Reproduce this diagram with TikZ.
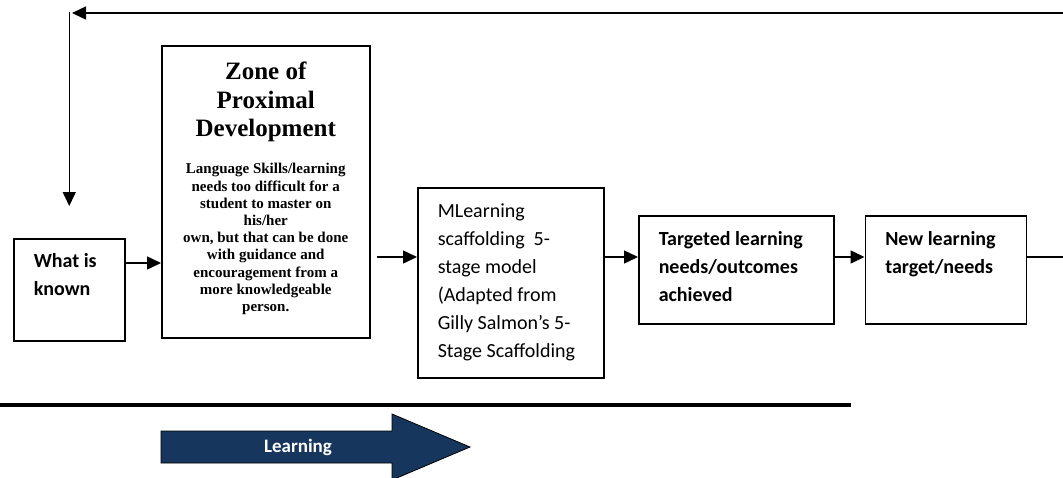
\documentclass[tikz,border=0pt]{standalone}
\usepackage{fontspec}
\setmainfont{Carlito}
\newfontfamily\zpdfont{Liberation Serif}
\usepackage{xcolor}
\usetikzlibrary{arrows.meta,positioning,calc}
\definecolor{learnblue}{RGB}{23,54,93}

\begin{document}
\begin{tikzpicture}[
    x=1pt, y=-1pt,
    box/.style={draw, line width=1.5pt, anchor=north west, align=flush left, inner xsep=20pt, inner ysep=0pt, text height=30pt, font=\fontsize{20}{28}\selectfont},
    arr/.style={-{Triangle[length=14pt,width=13pt]}, line width=1.5pt}
]
    \useasboundingbox (0,0) rectangle (1063,477);
    \clip (0,0) rectangle (1063,477);

    % the five stages
    \node[box, text width=71pt, text height=29pt, text depth=73pt, font=\fontsize{20}{28}\selectfont\bfseries] (known) at (13,238) {What is\\known};
    \node[box, text width=200pt, inner xsep=4pt, align=flush center, text height=34pt, text depth=258pt, font=\zpdfont\bfseries] (zpd) at (161,45) {%
        {\fontsize{25}{28.5}\selectfont Zone of\\Proximal\\Development\par}\vspace{20pt}%
        {\fontsize{15}{17.2}\selectfont Language Skills/learning\\needs too difficult for a\\student to master on\\his/her\\own, but that can be done\\with guidance and\\encouragement from a\\more knowledgeable\\person.\par}};
    \node[box, text width=146pt, text depth=160pt] (mlearn) at (417,187) {MLearning\\scaffolding\ \ 5-\\stage model\\(Adapted from\\Gilly Salmon’s 5-\\Stage Scaffolding};
    \node[box, text width=155pt, text depth=78pt, font=\fontsize{20}{28}\selectfont\bfseries] (target) at (638,215) {Targeted learning\\needs/outcomes\\achieved};
    \node[box, text width=121pt, text depth=78pt, font=\fontsize{20}{28}\selectfont\bfseries, right=30pt of target] (newneed) {New learning\\target/needs};

    % arrows between stages
    \coordinate (row) at (0,257);
    \coordinate (k1) at ([yshift=-25pt]known.north east);
    \draw[arr] (k1) -- (k1 -| zpd.west);
    \draw[arr, shorten <=6pt] (zpd.east |- row) -- (mlearn.west |- row);
    \draw[arr] (mlearn.east |- row) -- (target.west |- row);
    \draw[arr] (target.east |- row) -- (newneed.west |- row);

    % loop back to the start
    \coordinate (backtip) at (72,13);
    \coordinate (drop) at (69,12);
    \draw[arr] (newneed.east |- row) -- ++(50,0) |- (backtip);
    \draw[arr, shorten >=32pt] (known.north |- drop) -- (known.north);

    % learning direction
    \draw[line width=3.2pt] (0,405) -- (851,405);
    \draw[fill=learnblue, line width=0.8pt] (161,431) -- (392,431) -- (392,414) -- (470,447) -- (392,480) -- (392,463) -- (161,463) -- cycle;
    \node[font=\fontsize{19}{23}\selectfont\bfseries, text=white] (learn) at (298,447) {Learning};
\end{tikzpicture}
\end{document}
